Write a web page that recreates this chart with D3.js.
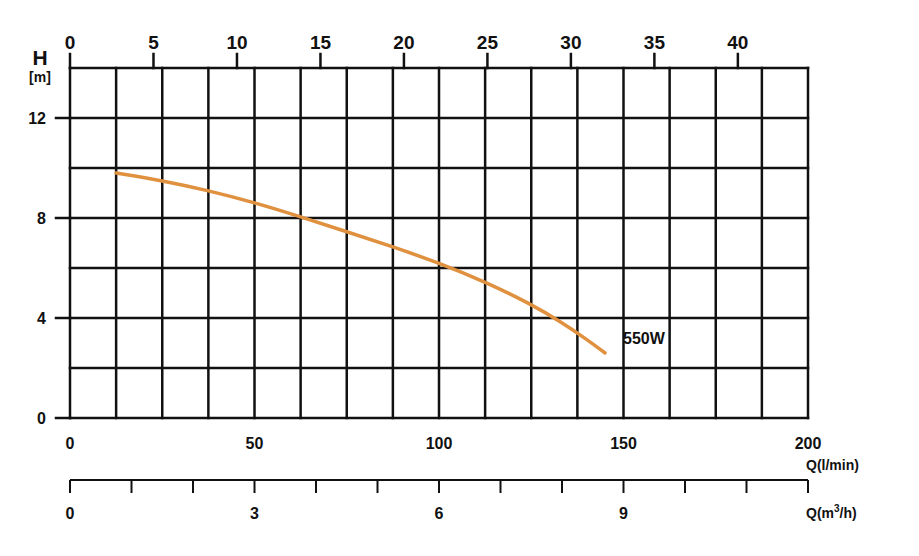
<!DOCTYPE html>
<html><head><meta charset="utf-8">
<script src="https://cdn.jsdelivr.net/npm/d3@7"></script>
<style>body{margin:0;background:#fff}text{font-family:"Liberation Sans",Arial,sans-serif;font-weight:bold;fill:#111}</style>
</head><body>
<svg id="chart" width="919" height="556"></svg>
<script>
const flowLmin = [12.5, 25, 37.5, 50, 62.5, 75, 87.5, 100, 112.5, 125, 133, 140, 145]
const head = [9.8, 9.5, 9.1, 8.62, 8.05, 7.45, 6.85, 6.2, 5.45, 4.55, 3.85, 3.15, 2.6]
const hTicks = [0, 4, 8, 12]
const lminTicks = [0, 50, 100, 150, 200]
const topTicks = [0, 5, 10, 15, 20, 25, 30, 35, 40]
const m3hTicks = [0, 3, 6, 9]

const svg = d3.select('#chart')
const x = d3.scaleLinear().domain([0, 200]).range([70, 808])
const y = d3.scaleLinear().domain([0, 14]).range([418, 68])
const xTop = d3.scaleLinear().domain([0, 44.2]).range([70, 808])
const xM3 = d3.scaleLinear().domain([0, 12]).range([70, 808])

const grid = svg.append('g').attr('stroke', '#111').attr('stroke-width', 2.5).attr('stroke-linecap', 'square')
d3.range(0, 200.1, 12.5).forEach(v => {
  grid.append('line').attr('x1', x(v)).attr('x2', x(v)).attr('y1', y(0)).attr('y2', y(14))
})
d3.range(0, 14.1, 2).forEach(v => {
  grid.append('line').attr('x1', x(0)).attr('x2', x(200)).attr('y1', y(v)).attr('y2', y(v))
})

// left ticks
hTicks.forEach(v => {
  grid.append('line').attr('x1', x(0) - 14).attr('x2', x(0)).attr('y1', y(v)).attr('y2', y(v))
  svg.append('text').attr('x', 46).attr('y', y(v) + 6).attr('text-anchor', 'end')
    .attr('font-size', 16).text(v)
})
svg.append('text').attr('x', 40).attr('y', 65).attr('text-anchor', 'middle').attr('font-size', 21).text('H')
svg.append('text').attr('x', 40).attr('y', 82).attr('text-anchor', 'middle').attr('font-size', 14).text('[m]')

// top axis
topTicks.forEach(v => {
  grid.append('line').attr('x1', xTop(v)).attr('x2', xTop(v)).attr('y1', 54).attr('y2', 68)
  svg.append('text').attr('x', xTop(v)).attr('y', 49).attr('text-anchor', 'middle')
    .attr('font-size', 19).text(v)
})

// bottom l/min labels
lminTicks.forEach(v => {
  svg.append('text').attr('x', x(v)).attr('y', 449).attr('text-anchor', 'middle')
    .attr('font-size', 16).text(v)
})
svg.append('text').attr('x', 806).attr('y', 470).attr('font-size', 14).text('Q(l/min)')

// m3/h axis
const g2 = svg.append('g').attr('stroke', '#111').attr('stroke-width', 2)
g2.append('line').attr('x1', xM3(0)).attr('x2', xM3(12)).attr('y1', 480).attr('y2', 480)
d3.range(0, 12.1, 1).forEach(v => {
  g2.append('line').attr('x1', xM3(v)).attr('x2', xM3(v)).attr('y1', 480).attr('y2', 493)
})
m3hTicks.forEach(v => {
  svg.append('text').attr('x', xM3(v)).attr('y', 519).attr('text-anchor', 'middle')
    .attr('font-size', 16).text(v)
})
const q = svg.append('text').attr('x', 806).attr('y', 518).attr('font-size', 14)
q.append('tspan').text('Q(m')
q.append('tspan').attr('dy', -6).attr('font-size', 10).text('3')
q.append('tspan').attr('dy', 6).text('/h)')

// curve
const line = d3.line().x((d, i) => x(flowLmin[i])).y(d => y(d)).curve(d3.curveBasis)
svg.append('path').attr('d', line(head)).attr('fill', 'none')
  .attr('stroke', '#e0913f').attr('stroke-width', 3.5).attr('stroke-linecap', 'round')
svg.append('text').attr('x', 623).attr('y', 344).attr('font-size', 16).text('550W')
</script>
</body></html>
